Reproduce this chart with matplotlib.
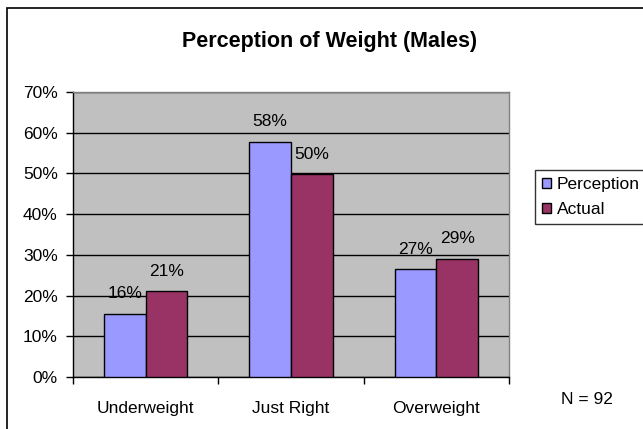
# encoding utf-8
import matplotlib
matplotlib.use('Agg')
import matplotlib.pyplot as plt
import numpy as np
from matplotlib.patches import Rectangle

plt.rcParams['font.family'] = ['Liberation Sans', 'DejaVu Sans']

# 数据
categories = ['Underweight', 'Just Right', 'Overweight']
perception = [15.5, 57.8, 26.5]
actual = [21.1, 49.8, 29.1]
perception_labels = ['16%', '58%', '27%']
actual_labels = ['21%', '50%', '29%']
yticks = [0, 10, 20, 30, 40, 50, 60, 70]

W, H = 643, 429
fs = 12.5
fig = plt.figure(figsize=(W / 100, H / 100), dpi=100)
fig.patch.set_facecolor('white')

# 外框（只有上边和左边在图内）
fig.add_artist(Rectangle((7 / W, -0.1), 2, 1.1 - 8 / H, transform=fig.transFigure,
                         fill=False, edgecolor='black', linewidth=1.2))

ax = fig.add_axes([73 / W, (H - 377) / H, (509 - 73) / W, (377 - 92) / H])
ax.set_facecolor('#C0C0C0')

x = np.arange(len(categories))
bw = 0.286
ax.bar(x - bw / 2, perception, bw, color='#9999FF', edgecolor='black', linewidth=1, label='Perception', zorder=3)
ax.bar(x + bw / 2, actual, bw, color='#993366', edgecolor='black', linewidth=1, label='Actual', zorder=3)

# 数据标签
px_per_unit = (377 - 92) / 70
off = 20 / px_per_unit
for i in range(len(categories)):
    ax.text(x[i] - bw / 2, perception[i] + off, perception_labels[i], ha='center', va='center', fontsize=fs, zorder=4)
    ax.text(x[i] + bw / 2, actual[i] + off, actual_labels[i], ha='center', va='center', fontsize=fs, zorder=4)

ax.set_xlim(-0.5, 2.5)
ax.set_ylim(0, 70)
ax.set_yticks(yticks)
ax.set_yticklabels([f'{v}%' for v in yticks], fontsize=fs)
ax.yaxis.grid(True, color='black', linewidth=1)
ax.set_axisbelow(True)

ax.set_xticks(x)
ax.set_xticklabels(categories, fontsize=fs)
ax.set_xticks([-0.5, 0.5, 1.5, 2.5], minor=True)
ax.tick_params(axis='x', which='major', length=0, pad=17)
ax.tick_params(axis='x', which='minor', length=5, width=1, direction='out')
ax.tick_params(axis='y', length=5, width=1, direction='out', pad=6)

for s in ['top', 'right']:
    ax.spines[s].set_color('#808080')
    ax.spines[s].set_linewidth(1)
for s in ['left', 'bottom']:
    ax.spines[s].set_color('black')
    ax.spines[s].set_linewidth(1)

fig.text(330 / W, 1 - 41 / H, 'Perception of Weight (Males)', ha='center', va='center',
         fontsize=15.5, fontweight='bold')

leg = fig.legend(loc='upper left', bbox_to_anchor=(535 / W, 1 - 170 / H), fontsize=fs,
                 frameon=True, fancybox=False, edgecolor='black', handlelength=0.55,
                 handleheight=0.55, handletextpad=0.3, borderpad=0.4, labelspacing=0.6,
                 borderaxespad=0)
leg.get_frame().set_linewidth(1)

fig.text(587 / W, 1 - 399 / H, 'N = 92', ha='center', va='center', fontsize=fs)

fig.savefig('out.png', dpi=100)
